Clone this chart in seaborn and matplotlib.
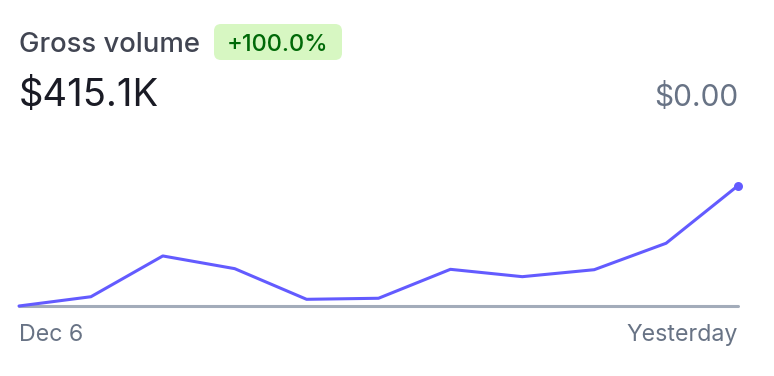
import matplotlib
matplotlib.use("Agg")
import matplotlib.pyplot as plt
import seaborn as sns
import pandas as pd
from matplotlib.patches import FancyBboxPatch
from matplotlib.transforms import IdentityTransform

# ---- data ----
days = list(range(11))
volume_k = [0, 9.7, 52.4, 39.1, 7.0, 8.1, 38.4, 30.7, 38.0, 65.7, 126.0]
x_labels = ["Dec 6", "Yesterday"]
title = "Gross volume"
change_label = "+100.0%"
total_label = "$415.1K"
compare_label = "$0.00"

sns.set_theme(style="white")
plt.rcParams['font.family'] = ['Inter', 'DejaVu Sans']

W, H = 774, 376
fig = plt.figure(figsize=(W / 100, H / 100), dpi=100)
fig.patch.set_facecolor("white")

def fx(x):
    return x / W

def fy(y):
    return (H - y) / H

# chart axes: x 19..738, y 140..306 (pixels)
ax = fig.add_axes([fx(19), fy(306), fx(738) - fx(19), (306 - 140) / H])
df = pd.DataFrame({"day": days, "volume": volume_k})
sns.lineplot(data=df, x="day", y="volume", ax=ax, color="#635bff",
             linewidth=2.2, clip_on=False, solid_joinstyle="round", zorder=3)
ax.scatter([days[-1]], [volume_k[-1]], s=42, color="#635bff", zorder=5,
           clip_on=False, linewidths=0)
ax.axhline(0, color="#a3acba", linewidth=2.2, zorder=1, clip_on=False)
ax.set_xlim(days[0], days[-1])
ax.set_ylim(0, 173.8)
ax.axis("off")

grey = "#687385"
fig.text(fx(19), fy(52), title, color="#414552", fontsize=19.8, va="baseline",
         ha="left", fontweight="medium")
box = FancyBboxPatch((214, H - 60), 128, 36, boxstyle="round,pad=0,rounding_size=7",
                     transform=IdentityTransform(), facecolor="#d7f7c2", edgecolor="none")
fig.patches.append(box)
fig.text(fx(278), fy(51), change_label, color="#006908", fontsize=17,
         va="baseline", ha="center", fontweight="medium")
fig.text(fx(19), fy(106), total_label, color="#1a1b25", fontsize=27.5,
         va="baseline", ha="left")
fig.text(fx(738), fy(106), compare_label, color=grey, fontsize=21.5,
         va="baseline", ha="right")
fig.text(fx(19), fy(341), x_labels[0], color=grey, fontsize=16.7,
         va="baseline", ha="left")
fig.text(fx(738), fy(341), x_labels[1], color=grey, fontsize=16.7,
         va="baseline", ha="right")

fig.savefig("out.png", dpi=100, facecolor="white")
